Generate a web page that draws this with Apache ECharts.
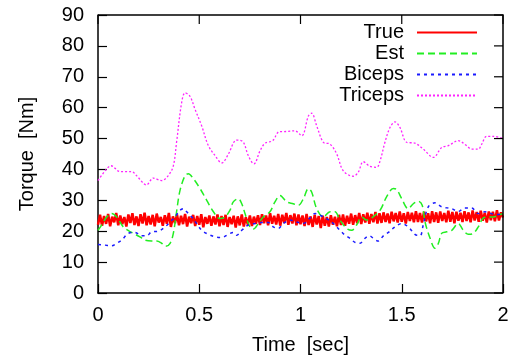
<!DOCTYPE html>
<html>
<head>
<meta charset="utf-8">
<script src="https://cdn.jsdelivr.net/npm/echarts@6/dist/echarts.min.js"></script>
<style>html,body{margin:0;padding:0;background:#fff}#c{width:516px;height:360px}</style>
</head>
<body>
<div id="c"></div>
<script>
// ---- data ----
var seriesNames = ['True', 'Est', 'Biceps', 'Triceps'];
var xTicks = [0, 0.5, 1, 1.5, 2];
var yTicks = [0, 10, 20, 30, 40, 50, 60, 70, 80, 90];

// True: noisy torque sampled every 0.01 s
var trueStep = 0.01;
var trueY = [
22.1,25.3,21.8,24.9,22.4,25.6,21.6,24.7,22.9,25.9,21.9,25.1,22.3,24.6,21.5,25.4,22.7,25.8,22.0,24.8,
21.7,25.5,22.5,26.0,21.9,24.9,22.2,25.3,21.6,25.7,22.8,24.6,21.8,25.2,22.4,25.9,21.4,24.8,22.6,25.4,
21.9,25.0,22.3,25.6,21.5,24.7,22.6,25.3,21.7,24.9,22.1,25.5,21.3,24.6,22.4,25.1,21.8,24.8,22.2,25.4,
21.6,24.9,22.0,25.3,21.4,24.6,22.3,25.0,21.2,24.8,21.9,25.4,21.5,24.5,22.1,25.1,21.7,24.7,22.4,25.2,
22.0,25.5,22.6,25.1,21.9,25.8,22.4,25.0,22.2,25.6,21.8,25.3,22.7,25.9,22.1,25.2,22.5,25.7,21.9,25.4,
22.3,25.1,21.7,25.6,22.0,24.8,21.4,25.3,22.2,24.9,21.0,25.0,21.8,24.6,21.5,25.2,22.1,24.7,21.6,25.3,
22.0,25.4,21.8,25.0,22.4,25.7,22.1,25.2,22.6,25.9,22.3,25.5,22.8,26.0,22.4,25.6,22.9,26.2,22.5,25.8,
22.7,26.1,23.0,25.7,22.6,26.3,23.2,25.9,22.8,26.4,23.1,25.8,22.5,26.2,23.3,26.0,22.9,26.5,23.0,25.9,
22.8,26.3,23.2,25.8,22.6,26.5,23.0,26.1,22.7,26.4,23.3,25.9,22.9,26.6,23.1,26.2,22.6,26.3,23.4,26.0,
23.0,26.5,23.3,26.1,22.9,26.7,23.5,26.2,23.1,26.6,23.4,26.0,22.8,26.4,23.6,26.3,23.2,26.8,23.5,26.1,
24.4
];

var estX = [0,0.018,0.043,0.068,0.092,0.125,0.166,0.207,0.232,0.265,0.29,0.314,0.334,0.356,0.372,0.388,0.405,0.43,0.446,0.471,0.504,0.537,0.57,0.602,0.627,0.652,0.668,0.693,0.71,0.726,0.75,0.767,0.792,0.816,0.849,0.874,0.899,0.932,0.964,0.989,1.014,1.039,1.055,1.08,1.113,1.146,1.17,1.195,1.228,1.253,1.277,1.302,1.327,1.351,1.393,1.425,1.458,1.475,1.5,1.532,1.557,1.582,1.601,1.615,1.64,1.664,1.681,1.697,1.722,1.747,1.779,1.804,1.829,1.853,1.878,1.903,1.927,1.952,1.977,2.0];
var estY = [20.3,22,24.6,25.7,24.6,21.4,19.6,18.2,17.1,16.8,16.8,16.1,15.1,16.1,19.3,26.3,33.2,38,38.6,37,33.8,30,26.3,24.1,24.6,26.8,29.5,30.5,28.9,25.7,21.4,20.7,22.5,24.6,26.3,29.5,31.6,29.5,28.9,28.4,30.5,33.8,32.7,27.3,24.6,26.3,26.3,23.6,20.9,20.3,22,24.6,23.6,24.3,26.8,31.1,33.8,33.5,30.5,27.3,28.9,29.7,28.4,23,17.7,14.5,16.1,19.3,19.8,20.3,22.5,20.3,19,19.3,21.4,24.3,24.6,24.6,25.2,25.7];

var bicX = [0,0.035,0.068,0.092,0.117,0.15,0.183,0.216,0.24,0.265,0.298,0.331,0.356,0.38,0.405,0.422,0.438,0.463,0.487,0.512,0.545,0.578,0.611,0.644,0.668,0.685,0.71,0.742,0.775,0.808,0.841,0.866,0.89,0.915,0.948,0.981,1.014,1.047,1.072,1.096,1.129,1.162,1.195,1.22,1.244,1.269,1.294,1.318,1.34,1.36,1.384,1.409,1.434,1.467,1.5,1.532,1.565,1.59,1.606,1.631,1.664,1.697,1.747,1.779,1.812,1.845,1.878,1.911,1.944,1.977,2.0];
var bicY = [15.7,15.5,15.3,16.1,17.1,19.3,19.6,18.5,18.5,19.8,20,21.4,23,24.6,26.8,27.3,26.3,24.6,22.5,20.3,19,18.2,18,19,19.6,18.7,20.3,22,22.5,22.8,22.8,21.4,20.9,22.5,23.6,23,22.5,24.3,25.7,25.2,24.1,22.5,20.3,18.7,17.7,16.4,16.1,17.7,18.5,17.7,16.8,18.5,19.6,21.4,22.5,21.4,19,18.5,22,27.9,29.2,27.9,27.3,26.4,27.5,27.5,25.7,26.3,25.7,25.4,25.7];

var triX = [0,0.043,0.064,0.109,0.166,0.19,0.24,0.273,0.314,0.347,0.372,0.388,0.413,0.43,0.454,0.479,0.512,0.545,0.578,0.611,0.644,0.677,0.693,0.718,0.742,0.77,0.8,0.825,0.862,0.895,0.932,0.973,1.006,1.039,1.055,1.08,1.113,1.146,1.179,1.211,1.261,1.285,1.31,1.343,1.376,1.393,1.417,1.442,1.467,1.491,1.524,1.565,1.606,1.656,1.697,1.73,1.779,1.82,1.845,1.878,1.895,1.919,1.952,2.0];
var triY = [36.4,40.2,41.2,39.3,39.3,38,35,37.2,36.4,38,41.2,48.8,61.6,64.8,63.7,59.5,54.1,47.7,44.5,42.1,45,49.3,49.5,48.8,44.5,41.8,46,48.5,49.3,52.2,52.3,52.5,50.9,57.3,58.2,54.1,48.8,48.2,45,39.6,37.8,39.1,42.5,41,40.7,42.8,48.8,53.6,55.4,53.6,48.8,48.5,46.6,43.9,47.1,47.7,49.3,47.7,46.6,46.6,48.2,50.7,50.7,50];

// ---- build ----
function pairs(xs, ys) { return xs.map(function (x, i) { return [x, ys[i]]; }); }
var trueData = trueY.map(function (y, i) { return [+(i * trueStep).toFixed(2), y]; });
var xMin = xTicks[0], xMax = xTicks[xTicks.length - 1];
var yMin = yTicks[0], yMax = yTicks[yTicks.length - 1];

var FONT = 'Liberation Sans, Arial, Helvetica, sans-serif';
var chart = echarts.init(document.getElementById('c'));

var tickStyle = { show: true, inside: true, length: 9, lineStyle: { color: '#000', width: 1.2 } };
var lineStyleAxis = { show: true, onZero: false, lineStyle: { color: '#000', width: 1.5 } };
var labelStyle = { color: '#000', fontFamily: FONT, fontSize: 20 };

chart.setOption({
  animation: false,
  grid: { left: 98, right: 13, top: 15, bottom: 65 },
  legend: {
    orient: 'vertical',
    right: 38,
    top: 22,
    padding: 0,
    align: 'right',
    itemWidth: 60,
    itemHeight: 10,
    itemGap: 0,
    data: seriesNames,
    itemStyle: { opacity: 0 },
    textStyle: { color: '#000', fontFamily: FONT, fontSize: 20, lineHeight: 21, padding: [0, 8, 0, 0] }
  },
  xAxis: {
    type: 'value', min: xMin, max: xMax, interval: 0.5, position: 'bottom',
    axisLine: lineStyleAxis, axisTick: tickStyle, splitLine: { show: false },
    axisLabel: { color: '#000', fontFamily: FONT, fontSize: 20, margin: 12 },
    name: 'Time  [sec]', nameLocation: 'middle', nameGap: 42, nameTextStyle: labelStyle
  },
  yAxis: {
    type: 'value', min: yMin, max: yMax, interval: 10, position: 'left',
    axisLine: lineStyleAxis, axisTick: tickStyle, splitLine: { show: false },
    axisLabel: { color: '#000', fontFamily: FONT, fontSize: 20, margin: 14 },
    name: 'Torque  [Nm]', nameLocation: 'middle', nameGap: 61, nameTextStyle: labelStyle
  },
  series: [
    { name: seriesNames[0], type: 'line', data: trueData, symbol: 'none',
      lineStyle: { color: '#ff0000', width: 2.5 }, itemStyle: { color: '#ff0000' } },
    { name: seriesNames[1], type: 'line', data: pairs(estX, estY), symbol: 'none', smooth: 0.35,
      lineStyle: { color: '#22ee22', width: 1.5, type: [7, 4] }, itemStyle: { color: '#22ee22' } },
    { name: seriesNames[2], type: 'line', data: pairs(bicX, bicY), symbol: 'none', smooth: 0.35,
      lineStyle: { color: '#1a1aff', width: 1.5, type: [3, 4] }, itemStyle: { color: '#1a1aff' } },
    { name: seriesNames[3], type: 'line', data: pairs(triX, triY), symbol: 'none', smooth: 0.35,
      lineStyle: { color: '#ff22ff', width: 1.3, type: [2, 2] }, itemStyle: { color: '#ff22ff' } }
  ]
});

// top/right frame with mirrored inward ticks, positioned through the axis scales
var tl = chart.convertToPixel({ gridIndex: 0 }, [xMin, yMax]);
var tr = chart.convertToPixel({ gridIndex: 0 }, [xMax, yMax]);
var br = chart.convertToPixel({ gridIndex: 0 }, [xMax, yMin]);
var frame = [{ type: 'polyline', shape: { points: [tl, tr, br] }, style: { stroke: '#000', lineWidth: 1.5, fill: null }, z: 100 }];
xTicks.forEach(function (x) {
  var p = chart.convertToPixel({ gridIndex: 0 }, [x, yMax]);
  frame.push({ type: 'line', shape: { x1: p[0], y1: p[1], x2: p[0], y2: p[1] + 9 }, style: { stroke: '#000', lineWidth: 1.2 }, z: 100 });
});
yTicks.forEach(function (y) {
  var p = chart.convertToPixel({ gridIndex: 0 }, [xMax, y]);
  frame.push({ type: 'line', shape: { x1: p[0] - 9, y1: p[1], x2: p[0], y2: p[1] }, style: { stroke: '#000', lineWidth: 1.2 }, z: 100 });
});
chart.setOption({ graphic: { elements: frame } });
</script>
</body>
</html>
